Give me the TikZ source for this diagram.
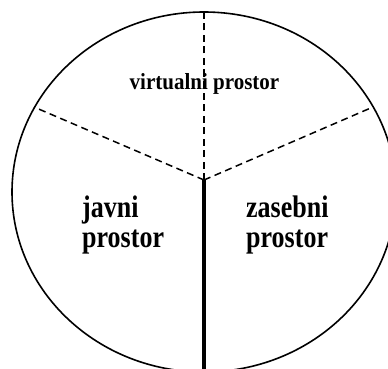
\documentclass[tikz,border=0pt]{standalone}
\usepackage{fontspec}
\setmainfont{Liberation Serif}
\newcommand{\tallblock}[1]{\scalebox{1}[1.2]{\fontsize{26}{25}\selectfont\bfseries\begin{tabular}{@{}l@{}}#1\end{tabular}}}
\begin{document}
\begin{tikzpicture}[x=1pt,y=-1pt,
  rim/.style={line width=1.6pt},
  divider/.style={line width=1.5pt,dash pattern=on 7pt off 4.5pt},
  wall/.style={line width=4pt},
  lbl/.style={inner sep=0pt,anchor=west},
  vlbl/.style={inner sep=0pt}]
\useasboundingbox (0,0) rectangle (388,369);
\clip (0,0) rectangle (388,369);
\coordinate (O) at (204,180);
\coordinate (T) at (204,12);
\coordinate (L) at (34,107);
\coordinate (R) at (373,107);
\coordinate (B) at (204,380);
\draw[rim] (204,192) ellipse [x radius=192, y radius=180];
\draw[divider] (O) -- (T);
\draw[divider] (O) -- (L);
\draw[divider] (O) -- (R);
\draw[wall] (O) -- (B);
\node[vlbl] (virt) at (204.5,84.4) {\scalebox{1}[1.1]{\fontsize{21}{25}\selectfont\bfseries virtualni prostor}};
\node[lbl] (javni) at (82,225.7) {\tallblock{javni\\prostor}};
\node[lbl] (zasebni) at (246,225.7) {\tallblock{zasebni\\prostor}};
\end{tikzpicture}
\end{document}
